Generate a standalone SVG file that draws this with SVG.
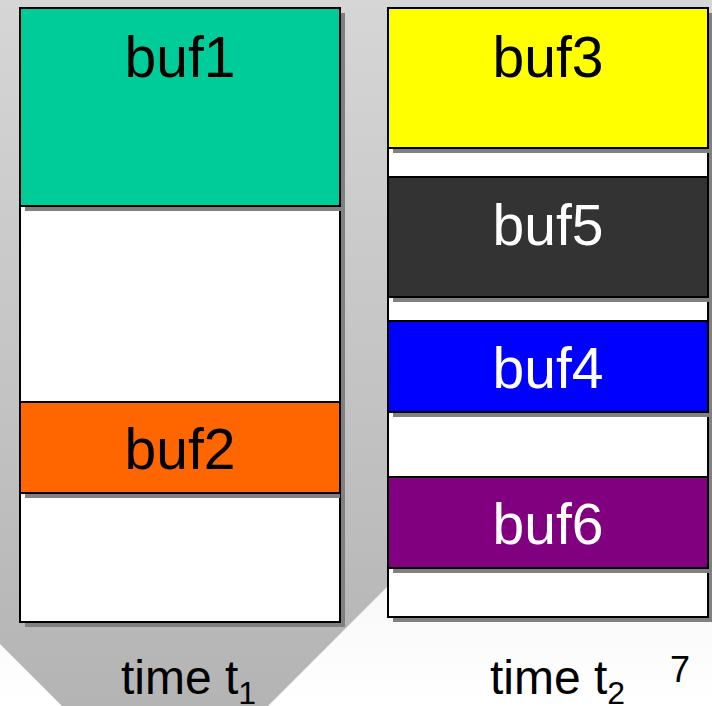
<svg xmlns="http://www.w3.org/2000/svg" width="712" height="706" viewBox="0 0 712 706">
  <defs>
    <linearGradient id="bgGrad" x1="0" y1="0" x2="0" y2="1">
      <stop offset="0" stop-color="#d6d6d6"/>
      <stop offset="1" stop-color="#ffffff"/>
    </linearGradient>
    <linearGradient id="arrowGrad" gradientUnits="userSpaceOnUse" x1="0" y1="0" x2="0" y2="706">
      <stop offset="0" stop-color="#d6d6d6"/>
      <stop offset="1" stop-color="#b4b4b4"/>
    </linearGradient>
  </defs>
  <style>
    .shadow { fill: #808080; }
    .box { stroke: #000000; stroke-width: 2; }
    .lbl { font-family: "Liberation Sans", Arial, sans-serif; font-size: 57px; text-anchor: middle; }
    .dark { fill: #000000; }
    .light { fill: #ffffff; }
    .cap { font-family: "Liberation Sans", Arial, sans-serif; font-size: 48px; fill: #000000; }
    .sub { font-size: 32px; }
  </style>

  <!-- backdrop and the downward arrow behind the first column -->
  <rect x="0" y="0" width="712" height="706" fill="url(#bgGrad)"/>
  <polygon points="0,0 387,0 387,587 165,809 0,644" fill="url(#arrowGrad)"/>

  <!-- memory at time t1 -->
  <g id="column-t1">
    <rect class="shadow" x="25" y="13" width="320" height="614"/>
    <rect class="box" x="20" y="8" width="320" height="614" fill="#ffffff"/>
  </g>
  <g id="buf1">
    <rect class="shadow" x="25" y="13" width="320" height="198"/>
    <rect class="box" x="20" y="8" width="320" height="198" fill="#00cc99"/>
    <text class="lbl dark" x="180" y="77">buf1</text>
  </g>
  <g id="buf2">
    <rect class="shadow" x="25" y="407" width="315" height="91"/>
    <rect class="box" x="20" y="402" width="320" height="91" fill="#ff6600"/>
    <text class="lbl dark" x="180" y="469">buf2</text>
  </g>

  <!-- memory at time t2 -->
  <g id="column-t2">
    <rect class="shadow" x="393" y="13" width="320" height="609"/>
    <rect class="box" x="388" y="8" width="320" height="609" fill="#ffffff"/>
  </g>
  <g id="buf3">
    <rect class="shadow" x="393" y="13" width="320" height="140"/>
    <rect class="box" x="388" y="8" width="320" height="140" fill="#ffff00"/>
    <text class="lbl dark" x="548" y="77">buf3</text>
  </g>
  <g id="buf5">
    <rect class="shadow" x="393" y="182" width="320" height="120"/>
    <rect class="box" x="388" y="177" width="320" height="120" fill="#333333"/>
    <text class="lbl light" x="548" y="245">buf5</text>
  </g>
  <g id="buf4">
    <rect class="shadow" x="393" y="326" width="320" height="91"/>
    <rect class="box" x="388" y="321" width="320" height="91" fill="#0000ff"/>
    <text class="lbl light" x="548" y="388">buf4</text>
  </g>
  <g id="buf6">
    <rect class="shadow" x="393" y="482" width="320" height="91"/>
    <rect class="box" x="388" y="477" width="320" height="91" fill="#800080"/>
    <text class="lbl light" x="548" y="544">buf6</text>
  </g>

  <!-- captions -->
  <text class="cap" x="121" y="694">time t<tspan class="sub" dy="10">1</tspan></text>
  <text class="cap" x="490" y="694">time t<tspan class="sub" dy="10">2</tspan></text>
  <text class="cap" x="670" y="682" style="font-size:36px">7</text>
</svg>
